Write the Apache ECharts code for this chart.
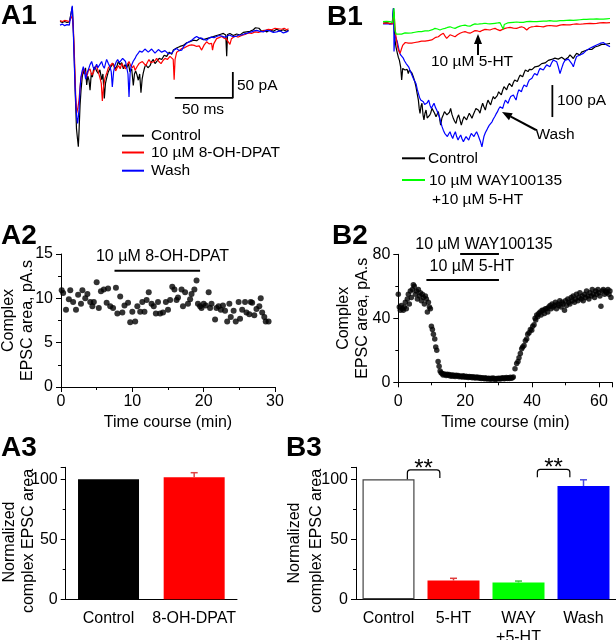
<!DOCTYPE html>
<html><head><meta charset="utf-8">
<script src="https://cdn.jsdelivr.net/npm/echarts/dist/echarts.min.js"></script>
<style>html,body{margin:0;padding:0;background:#fff}#c{width:616px;height:640px}</style>
</head><body><div id="c"></div>
<script>
// ---------- DATA ----------
// A1 traces: [time ms, current pA]
const a1Control = [[0,1],[2,-1],[4,1],[6,-1],[8,0],[9.6,2],[10.6,29],[11.3,-5],[12.2,-60],[13.2,-140],[14.2,-205],[15.1,-225],[15.8,-240],[16.5,-205],[17.3,-160],[18.1,-132],[19.2,-105],[20.2,-92],[21,-100],[22,-88],[23,-121],[24,-104],[25,-112],[25.9,-131],[27,-98],[27.9,-106],[29,-90],[30.2,-86],[31.5,-94],[33,-99],[34.4,-92],[35.9,-111],[37,-100],[38.2,-147],[39.2,-118],[40.2,-108],[41.6,-96],[43.1,-89],[44.5,-84],[46,-80],[47.5,-90],[48.9,-86],[50.3,-76],[51.7,-82],[53.2,-78],[54.6,-90],[56,-82],[57.5,-88],[59,-80],[60.3,-96],[61.8,-90],[63.2,-122],[64.2,-100],[65.2,-94],[66.4,-102],[67.5,-112],[68.7,-100],[69.8,-136],[70.8,-110],[71.8,-98],[72.9,-88],[73.9,-82],[75.8,-88],[77.6,-84],[79,-76],[80.4,-72],[81.9,-80],[83.3,-76],[85.5,-70],[87.7,-72],[89.8,-64],[92,-66],[94.2,-58],[96.3,-62],[97.7,-54],[100.5,-50],[103.4,-47],[106.3,-45],[109.2,-40],[112,-38],[115,-35],[117.8,-36],[120.7,-31],[123.6,-34],[126.4,-32],[129.3,-30],[132.2,-28],[135,-26],[137.9,-24],[140.8,-22],[142.9,-25],[143.7,-66],[144.4,-24],[146.5,-22],[149.4,-26],[152.3,-23],[155.2,-25],[158,-20],[160.9,-19],[163.8,-18],[166.7,-15],[168.5,-11],[169.5,-14],[171.5,-12],[173.9,-18],[176,-16],[178.2,-19],[181,-15],[183.9,-18],[186.8,-14],[189.7,-17],[192.5,-15],[195.4,-18],[197,-16]];
const a1DPAT = [[0,3],[2,1],[4,3],[6,2],[8,1],[9.6,3],[10.6,12],[11.5,-10],[12.5,-70],[13.5,-140],[14.4,-175],[15.4,-165],[16.4,-150],[17.3,-125],[18.1,-108],[19.2,-98],[20.4,-90],[21.7,-96],[23,-106],[24.4,-94],[25.9,-90],[27.3,-102],[28.7,-98],[30.2,-88],[31.6,-84],[33,-96],[34.5,-108],[35.6,-118],[36.5,-152],[37.5,-125],[38.8,-108],[40.3,-98],[41.7,-88],[43.4,-84],[45.1,-79],[46.6,-86],[48,-94],[49.3,-88],[50.6,-84],[51.9,-90],[53.2,-80],[54.9,-86],[56.6,-90],[58,-82],[59.5,-76],[61,-84],[62.4,-88],[63.6,-84],[64.7,-93],[66.4,-86],[68.1,-80],[69.6,-78],[71,-76],[72.5,-80],[73.9,-84],[75.3,-78],[76.7,-72],[78.2,-78],[79.6,-81],[81.5,-76],[83.3,-70],[85.2,-76],[87.1,-80],[88.8,-74],[90.5,-70],[92.7,-72],[94.8,-66],[96.3,-64],[97.6,-72],[98.4,-111],[99.2,-72],[100.6,-58],[102.7,-55],[104.9,-51],[107,-50],[109.2,-47],[111.3,-45],[113.5,-44],[115.7,-45],[117.8,-47],[120,-46],[122.1,-54],[124.3,-44],[126.4,-38],[128.5,-42],[130.7,-41],[131.5,-54],[132.5,-42],[135,-32],[137.2,-30],[139.4,-28],[141.5,-31],[143.5,-33],[145.1,-36],[146.5,-43],[147.8,-32],[150.9,-27],[153.7,-29],[156.6,-26],[159.5,-24],[162.4,-21],[165.2,-22],[168.1,-19],[171,-20],[173.9,-18],[176.8,-16],[179.6,-14],[182.5,-15],[185.3,-12],[188.2,-13],[191.1,-14],[193.2,-12],[195.4,-15],[197,-13]];
const a1Wash = [[0,-6],[2,-4],[4,-7],[6,-5],[8,-6],[9.6,-3],[10.6,31],[11.5,-20],[12.4,-86],[13.1,-130],[13.8,-163],[14.5,-185],[15.2,-195],[15.9,-180],[16.4,-169],[17.2,-130],[18.1,-105],[19.1,-94],[20.1,-86],[21.1,-96],[22.1,-110],[23.3,-98],[24.4,-92],[25.9,-82],[27.3,-76],[28.5,-86],[29.6,-92],[30.6,-86],[31.6,-81],[32.6,-88],[33.6,-89],[34.8,-80],[35.9,-76],[37,-84],[38.2,-89],[39.2,-80],[40.2,-72],[41.7,-80],[43.1,-86],[44.2,-96],[45.1,-125],[46.2,-96],[47.4,-83],[48.6,-76],[49.7,-72],[51.1,-78],[52.6,-76],[54,-70],[55.5,-70],[56.5,-76],[57.5,-79],[58.6,-100],[59.5,-144],[60.4,-100],[61.2,-86],[63,-76],[64.7,-70],[66,-64],[67.5,-60],[68.6,-56],[69.8,-54],[70.8,-58],[71.8,-57],[73.2,-52],[74.7,-53],[76.1,-58],[77.6,-57],[79,-52],[80.5,-54],[81.9,-60],[83.3,-59],[84.8,-53],[86.2,-54],[87.6,-58],[89.1,-60],[90.5,-55],[92,-57],[93.4,-61],[94.8,-60],[96.3,-60],[98.4,-54],[100.6,-51],[102.7,-55],[104.9,-54],[107,-46],[109.2,-41],[111.3,-38],[113.5,-35],[115.6,-31],[117.8,-28],[120,-31],[122.1,-31],[124.2,-34],[126.4,-35],[128.5,-31],[130.7,-29],[132.8,-30],[135,-28],[137.2,-26],[139.4,-27],[141.5,-29],[143.7,-28],[145.8,-25],[148,-27],[150.1,-28],[152.3,-27],[154.4,-25],[156.6,-25],[158.7,-23],[160.9,-22],[163,-20],[165.2,-19],[167.3,-17],[169.5,-16],[172.4,-18],[175.3,-19],[178.1,-16],[181,-17],[183.9,-20],[186.8,-19],[189.6,-17],[192.5,-21],[195.4,-19],[197,-17]];
const a1ScaleBar = [[99,-146],[149,-146],[149,-96]]; // 50 ms x 50 pA

// B1 traces: [time ms, current pA]
const b1Control = [[0,-4],[3,-2],[6,-5],[8,-4],[9,43],[9.6,-20],[10.3,-56],[11.3,-80],[12.4,-98],[13.2,-110],[14.1,-119],[15.2,-140],[16.1,-181],[17,-145],[18.1,-140],[19,-150],[19.8,-155],[20.8,-148],[21.8,-161],[22.8,-150],[23.8,-145],[25,-160],[26.1,-171],[27.3,-185],[28.4,-202],[29.5,-225],[30.5,-244],[31.2,-270],[31.9,-286],[32.8,-262],[33.6,-254],[34.5,-290],[35.3,-306],[36.2,-285],[37.1,-275],[38.1,-300],[39.1,-306],[40.1,-292],[41.1,-285],[42.2,-270],[43.4,-264],[44.5,-285],[45.7,-296],[46.7,-288],[47.7,-280],[48.7,-300],[49.7,-322],[50.8,-300],[52,-290],[53,-280],[54,-275],[55.1,-290],[56.3,-296],[57.3,-282],[58.3,-270],[59.4,-288],[60.6,-301],[61.7,-310],[62.9,-317],[64,-300],[65.2,-290],[66.3,-305],[67.5,-322],[68.6,-308],[69.8,-296],[71,-300],[72.1,-306],[73.2,-295],[74.4,-285],[75.5,-292],[76.7,-301],[77.8,-290],[79,-280],[80.1,-270],[81.3,-264],[82.4,-276],[83.6,-285],[84.7,-268],[85.9,-254],[87,-265],[88.2,-275],[89.3,-258],[90.5,-244],[91.6,-252],[92.8,-259],[93.9,-245],[95.1,-233],[96.2,-240],[97.4,-244],[98.5,-230],[99.7,-218],[100.8,-224],[102,-228],[103.1,-214],[104.3,-202],[105.4,-208],[106.6,-212],[107.7,-200],[108.9,-192],[110,-198],[111.2,-202],[112.3,-190],[113.5,-181],[114.6,-184],[115.8,-186],[117,-175],[118.1,-166],[119.2,-170],[120.4,-171],[121.5,-160],[122.7,-150],[123.8,-154],[125,-155],[126.2,-148],[127.3,-145],[128.4,-149],[129.6,-150],[131,-140],[132.5,-134],[134,-138],[135.3,-140],[136.8,-130],[138.2,-124],[139.7,-128],[141.1,-129],[142.5,-120],[143.9,-114],[145.3,-117],[146.8,-119],[148.2,-113],[149.7,-110],[151.1,-116],[152.6,-114],[154,-110],[155.5,-108],[156.9,-118],[158.3,-124],[159.8,-110],[161.2,-103],[162.7,-108],[164.1,-114],[165.5,-105],[166.9,-98],[168.4,-100],[169.8,-103],[171.2,-94],[172.7,-88],[174.1,-90],[175.6,-93],[177,-86],[178.4,-82],[179.9,-86],[181.3,-88],[182.7,-78],[184.2,-72],[185.6,-75],[187.1,-77],[188.5,-70],[189.9,-67],[191.4,-70],[192.8,-72],[194.2,-68],[195.7,-67]];
const b1Wash = [[0,-6],[3,-5],[6,-7],[8,-6],[9,43],[9.3,10],[9.5,-92],[10.2,-40],[11.2,-35],[12.2,-60],[13.2,-77],[14.2,-95],[15.2,-103],[16.3,-108],[17.5,-113],[18.6,-122],[19.8,-129],[20.9,-134],[22.1,-140],[23.2,-150],[24.4,-155],[25.2,-168],[26.1,-176],[27.2,-184],[28.4,-192],[29.5,-210],[30.5,-223],[31.5,-236],[32.5,-244],[33.6,-250],[34.8,-249],[35.9,-258],[37.1,-264],[38.2,-252],[39.4,-244],[40.5,-260],[41.7,-270],[42.8,-262],[44,-254],[45.1,-266],[46.3,-275],[47.4,-285],[48.6,-296],[49.7,-312],[50.9,-327],[52,-338],[53.2,-348],[54.3,-352],[55.5,-358],[56.6,-350],[57.8,-343],[58.9,-355],[60.1,-364],[61.2,-352],[62.4,-343],[63.5,-358],[64.7,-369],[65.8,-360],[67,-353],[68.1,-365],[69.3,-374],[70.4,-366],[71.6,-358],[72.7,-364],[73.9,-369],[75,-358],[76.1,-348],[77.2,-352],[78.4,-358],[79.5,-350],[80.7,-343],[81.8,-352],[83,-364],[84.2,-376],[85.3,-390],[86.2,-372],[87,-358],[88.2,-346],[89.4,-338],[90.5,-330],[91.7,-322],[92.8,-318],[94,-312],[95.1,-303],[96.3,-296],[97.4,-288],[98.6,-281],[99.7,-272],[100.9,-265],[102,-268],[103.2,-270],[104.3,-256],[105.5,-244],[106.6,-249],[107.8,-254],[108.9,-242],[110.1,-233],[111.2,-230],[112.4,-228],[113.5,-236],[114.7,-244],[115.8,-226],[117,-212],[118.1,-215],[119.3,-218],[120.4,-206],[121.6,-197],[122.7,-200],[123.9,-202],[125,-190],[126.1,-181],[127.2,-178],[128.4,-176],[129.5,-168],[130.7,-161],[131.8,-163],[133,-166],[134.1,-155],[135.3,-145],[136.8,-148],[138.2,-150],[139.6,-142],[141.1,-134],[142.5,-137],[143.9,-140],[145.3,-128],[146.8,-119],[148.2,-121],[149.7,-124],[151.1,-140],[152.6,-161],[154,-145],[155.5,-129],[156.9,-120],[158.3,-114],[159.8,-116],[161.2,-119],[162.7,-130],[164.1,-140],[165.5,-122],[166.9,-108],[168.4,-106],[169.8,-103],[171.2,-100],[172.7,-98],[174.1,-92],[175.6,-88],[177,-85],[178.4,-82],[179.9,-80],[181.3,-77],[182.7,-74],[184.2,-72],[185.6,-70],[187.1,-67],[188.5,-65],[189.9,-64],[191.4,-68],[192.8,-72],[194.2,-70],[195.7,-77]];
const b1SerotoninOnly = [[0,-4],[3,-3],[6,-5],[8.3,-6],[9.5,32],[10.2,-10],[11.2,-46],[12.2,-70],[13.2,-87],[14.7,-98],[16.1,-82],[17.1,-72],[18.1,-67],[19.2,-64],[20.4,-61],[21.9,-66],[23.3,-72],[24.7,-66],[26.1,-61],[27.5,-64],[29,-67],[30.5,-62],[31.9,-58],[33.3,-60],[34.8,-65],[36.2,-60],[37.6,-54],[39,-58],[40.5,-61],[42,-56],[43.4,-51],[45.5,-48],[47.7,-46],[49.8,-40],[52,-35],[53.5,-44],[54.9,-51],[56.3,-45],[57.8,-40],[60,-43],[62.1,-46],[64.2,-40],[66.4,-35],[68.5,-32],[70.7,-30],[72.8,-33],[75,-35],[77.1,-31],[79.3,-27],[81.5,-28],[83.6,-30],[85.8,-26],[87.9,-23],[90,-24],[92.2,-25],[94.4,-22],[96.6,-20],[98.8,-24],[100.9,-27],[103,-23],[105.2,-20],[107.4,-18],[109.5,-17],[112.4,-19],[115.2,-20],[117.4,-17],[119.5,-15],[121.7,-18],[123.9,-25],[126,-18],[128.2,-15],[130.4,-14],[132.5,-13],[135.4,-14],[138.2,-15],[141,-12],[143.9,-11],[146.8,-12],[149.7,-13],[152.6,-10],[155.5,-8],[158.3,-9],[161.2,-9],[164,-7],[166.9,-6],[169.8,-7],[172.7,-6],[175.5,-5],[178.4,-4],[181.3,-5],[184.2,-4],[187,-3],[189.9,-2],[192.8,-3],[195.7,-2]];
const b1WayPlus5HT = [[0,1],[3,2],[6,1],[8.3,-2],[9.5,43],[10.3,-25],[11.3,-38],[12.4,-44],[13.5,-38],[14.7,-35],[16,-38],[17.5,-40],[19,-34],[20.4,-30],[21.8,-35],[23.3,-40],[24.7,-34],[26.1,-30],[27.5,-32],[29,-35],[30.5,-30],[31.9,-27],[33.3,-30],[34.8,-33],[36.2,-28],[37.6,-25],[39,-28],[40.5,-30],[42.6,-24],[44.8,-20],[47,-22],[49.1,-25],[51.2,-22],[53.4,-20],[55.6,-17],[57.8,-15],[60,-18],[62.1,-20],[64.2,-16],[66.4,-13],[68.5,-11],[70.7,-10],[72.8,-12],[75,-13],[77.1,-9],[79.3,-6],[81.5,-7],[83.6,-6],[85.8,-5],[87.9,-4],[90,-5],[92.2,-6],[94.4,-5],[96.6,-4],[98.8,-3],[100.9,-2],[102.5,-8],[103.7,-23],[104.5,-8],[105.2,-6],[107.4,-3],[109.5,-2],[112.4,-1],[115.2,0],[118,-1],[121,-1],[123.8,1],[126.7,2],[129.6,1],[132.5,1],[135.3,2],[138.2,3],[141,3],[143.9,4],[146.8,3],[149.7,3],[152.6,4],[155.5,4],[158.3,5],[161.2,6],[164,5],[166.9,6],[169.8,7],[172.7,8],[175.5,8],[178.4,9],[181.3,9],[184.2,10],[187,9],[189.9,9],[192.8,10],[195.7,11]];
const b1ScaleBar = [[146,-197],[146,-297]]; // 100 pA

// A2: [time min, complex EPSC area pA.s]
const a2Points = [[0.1,10.9],[0.3,10.6],[0.7,8.7],[1.1,9.9],[1.3,10.9],[1.7,9.6],[2.1,8.7],[2.4,10.4],[2.8,9.4],[3.0,10.9],[3.4,10.0],[3.7,10.5],[4.1,9.6],[4.4,9.1],[4.6,9.6],[5.0,11.8],[5.3,8.9],[5.6,10.8],[6.0,11.0],[6.4,9.5],[6.6,11.1],[6.9,9.1],[7.3,8.9],[7.7,11.2],[7.9,8.3],[8.3,10.2],[8.6,8.4],[8.9,9.2],[9.4,9.5],[9.7,7.3],[10.0,8.5],[10.4,7.4],[10.7,9.1],[11.1,8.5],[11.4,9.6],[11.7,8.5],[12.0,9.8],[12.3,10.7],[12.7,9.4],[13.0,9.1],[13.3,8.3],[13.6,9.6],[13.9,8.3],[14.3,8.4],[14.7,9.6],[15.0,8.7],[15.3,9.8],[15.6,11.3],[15.9,11.0],[16.2,9.8],[16.4,10.1],[16.9,11.0],[17.1,9.1],[17.4,10.7],[17.8,9.4],[18.1,9.9],[18.3,10.5],[18.7,11.0],[19.0,12.0],[19.2,9.4],[19.5,9.1],[19.7,8.9],[20.0,9.4],[20.3,9.2],[20.7,10.7],[20.9,8.9],[21.1,9.4],[21.6,7.6],[21.8,8.9],[22.1,9.1],[22.4,8.7],[22.7,9.2],[23.0,8.6],[23.3,7.4],[23.6,9.4],[23.8,7.9],[24.2,8.6],[24.5,7.4],[24.9,9.6],[25.1,7.7],[25.4,8.7],[25.8,9.6],[26.0,8.4],[26.4,8.2],[26.6,9.6],[26.8,9.5],[27.1,8.1],[27.4,8.8],[27.8,9.1],[28.0,10.0],[28.2,8.4],[28.5,7.9],[28.7,7.4],[29.1,7.4]];
const a2DrugBar = [[7.5,13.1],[19.5,13.1]];

// B2: [time min, complex EPSC area pA.s]
const b2Points = [[0,55],[0.3,47],[0.6,45],[0.9,48],[1.2,46],[1.5,45],[1.8,47],[2.1,50],[2.4,46],[2.7,52],[3.0,55],[3.3,49],[3.6,57],[3.9,53],[4.2,58],[4.5,61],[4.8,60],[5.1,55],[5.4,57],[5.7,52],[6.0,58],[6.3,54],[6.6,56],[6.9,51],[7.2,55],[7.5,53],[7.8,49],[8.1,54],[8.4,52],[8.7,44],[9.0,50],[9.3,47],[9.6,46],[9.9,35],[10.2,33],[10.5,30],[10.9,27],[11.2,22],[11.5,20],[11.9,13],[12.2,10],[12.5,7],[12.8,6],[13.1,5.5],[13.4,4.5],[13.7,5.2],[14.0,4.8],[14.3,4.2],[14.6,5.0],[14.9,4.4],[15.2,4.8],[15.5,4.0],[15.8,4.6],[16.1,3.8],[16.4,4.5],[16.7,4.1],[17.0,3.6],[17.3,4.4],[17.6,3.9],[17.9,4.3],[18.2,3.5],[18.5,4.0],[18.8,3.7],[19.1,3.3],[19.4,4.1],[19.7,3.6],[20.0,3.2],[20.3,3.8],[20.6,3.4],[20.9,3.0],[21.2,3.6],[21.5,3.1],[21.8,3.5],[22.1,2.9],[22.4,3.4],[22.7,3.0],[23.0,2.7],[23.3,3.3],[23.6,2.8],[23.9,3.2],[24.2,2.6],[24.5,3.0],[24.8,2.4],[25.1,2.9],[25.4,2.5],[25.7,2.2],[26.0,2.8],[26.3,2.4],[26.6,2.0],[26.9,2.6],[27.2,2.3],[27.5,1.9],[27.8,2.5],[28.1,2.1],[28.4,2.7],[28.7,2.2],[29.0,1.8],[29.3,2.4],[29.6,2.0],[29.9,2.6],[30.2,2.3],[30.5,2.0],[30.8,2.7],[31.1,2.4],[31.4,2.9],[31.7,2.2],[32.0,2.5],[32.3,3.0],[32.6,2.3],[32.9,2.8],[33.2,2.4],[33.5,3.1],[33.8,2.6],[34.1,2.9],[34.4,3.3],[34.9,8.5],[35.4,11.7],[35.8,13],[36.1,15.4],[36.5,18],[36.9,21],[37.2,22],[37.6,23],[38.0,26],[38.4,27],[38.7,30],[39.1,31],[39.5,33],[39.9,32.5],[40.2,35],[40.6,36],[40.9,40],[41.1,39],[41.4,42],[41.7,41],[42.0,43],[42.4,44],[42.7,42],[43.0,45],[43.4,45],[43.7,43],[44.0,46],[44.4,46],[44.7,44],[45.0,47],[45.4,48],[45.7,46],[46.0,49],[46.3,47],[46.7,48],[47.0,50],[47.3,46],[47.7,49],[48.0,48],[48.3,51],[48.7,47],[49.0,50],[49.3,49],[49.7,45],[50.0,51],[50.3,48],[50.7,52],[51.0,50],[51.3,49],[51.7,53],[52.0,51],[52.3,54],[52.7,50],[53.0,52],[53.3,55],[53.7,51],[54.0,53],[54.3,56],[54.7,52],[55.0,54],[55.3,51],[55.7,55],[56.0,53],[56.3,57],[56.7,54],[57.0,52],[57.3,56],[57.7,54],[58.0,58],[58.3,55],[58.7,53],[59.0,57],[59.3,55],[59.7,58],[60.0,56],[60.3,54],[60.6,47.5],[61.0,57],[61.3,58],[61.7,55],[62.0,57],[62.3,56],[62.7,58],[63.0,55],[63.3,57],[63.6,53]];
const b2WayBar = [[18.5,80.2],[30.1,80.2]];
const b2SerotoninBar = [[8.4,63.9],[30.1,63.9]];

// A3 / B3 bars (normalized complex EPSC area)
const a3Categories = ['Control', '8-OH-DPAT'];
const a3Values = [100, 101.7];
const a3Errors = [[1, 101.7, 105.5]];           // [category, mean, mean+SEM]
const b3Categories = ['Control', '5-HT', 'WAY\n+5-HT', 'Wash'];
const b3Values = [100, 15.6, 14, 94.4];
const b3Errors = [[1, 15.6, 17.5], [2, 14, 15.2], [3, 94.4, 99.6]];
const b3Significance = [[0, 1, 100, 107.8, 101], [2, 3, 101.7, 108.3, 101.7]]; // [fromCat, toCat, yLeft, yTop, yRight]

// ---------- STYLE ----------
const FF = '"Liberation Sans", Arial, sans-serif';
const a3Colors = ['#000000', '#ff0000'];
const a3ErrColors = ['#e04444'];
const b3Colors = ['#ffffff', '#ff0000', '#00ff00', '#0000ff'];
const b3ErrColors = ['#e03c3c', '#3cc83c', '#4c4ce0'];

const chart = echarts.init(document.getElementById('c'), null, {renderer: 'canvas', width: 616, height: 640});

function valAxis(grid, extra) {
  return Object.assign({
    gridIndex: grid, type: 'value',
    axisLine: {show: true, lineStyle: {color: '#000', width: 1}},
    axisTick: {show: true, length: 5, inside: false, lineStyle: {color: '#000', width: 1}},
    minorTick: {show: true, splitNumber: 2, length: 3, lineStyle: {color: '#000', width: 1}},
    splitLine: {show: false}, minorSplitLine: {show: false},
    axisLabel: {color: '#000', fontSize: 16, fontFamily: FF, margin: 8, showMinLabel: true},
    nameTextStyle: {color: '#000', fontSize: 16, fontFamily: FF, lineHeight: 19},
    nameLocation: 'middle', nameMoveOverlap: false
  }, extra);
}
function catAxis(grid, cats) {
  return {
    gridIndex: grid, type: 'category', data: cats,
    axisLine: {show: true, lineStyle: {color: '#000', width: 1}},
    axisTick: {show: false},
    axisLabel: {color: '#000', fontSize: 16, fontFamily: FF, margin: 10, lineHeight: 19, interval: 0}
  };
}
function hidden(grid, min, max) {
  return {gridIndex: grid, type: 'value', min: min, max: max, show: false, splitLine: {show: false}};
}
function trace(xi, data, color, w) {
  return {type: 'line', xAxisIndex: xi, yAxisIndex: xi, data: data, showSymbol: false, symbol: 'none',
    lineStyle: {color: color, width: w || 1.2}, clip: false, silent: true};
}
function errRender(colors) {
  return function (params, api) {
    const c = colors[params.dataIndex];
    const b = api.coord([api.value(0), api.value(1)]);
    const t = api.coord([api.value(0), api.value(2)]);
    return {type: 'group', children: [
      {type: 'line', shape: {x1: b[0], y1: b[1], x2: t[0], y2: t[1]}, style: {stroke: c, lineWidth: 1.5}},
      {type: 'line', shape: {x1: t[0] - 3.5, y1: t[1], x2: t[0] + 3.5, y2: t[1]}, style: {stroke: c, lineWidth: 1.5}}
    ]};
  };
}
function bracketRender(params, api) {
  const band = api.size([1, 0])[0];
  const xa = api.coord([api.value(0), 0])[0] + 0.29 * band;
  const xb = api.coord([api.value(1), 0])[0] - 0.21 * band;
  const yl = api.coord([0, api.value(2)])[1];
  const yt = api.coord([0, api.value(3)])[1];
  const yr = api.coord([0, api.value(4)])[1];
  const r = 3;
  return {type: 'group', children: [
    {type: 'path', shape: {pathData: 'M' + xa + ' ' + yl + 'L' + xa + ' ' + (yt + r) + 'Q' + xa + ' ' + yt + ' ' + (xa + r) + ' ' + yt +
      'L' + (xb - r) + ' ' + yt + 'Q' + xb + ' ' + yt + ' ' + xb + ' ' + (yt + r) + 'L' + xb + ' ' + yr},
      style: {stroke: '#000', fill: 'none', lineWidth: 1.2}},
    {type: 'text', style: {text: '**', x: (xa + xb) / 2, y: yt + 11, align: 'center', verticalAlign: 'bottom',
      textAlign: 'center', textVerticalAlign: 'bottom', font: '24px ' + FF, fill: '#000'}}
  ]};
}

function T(text, x, y, size, opts) {
  opts = opts || {};
  return {type: 'text', x: x, y: y, rotation: opts.rot || 0, silent: true, style: {
    text: text, fill: '#000', font: (opts.bold ? 'bold ' : '') + size + 'px ' + FF,
    textAlign: opts.align || 'left', align: opts.align || 'left',
    textVerticalAlign: 'middle', verticalAlign: 'middle'}};
}
function L(x1, y1, x2, y2, color, w) {
  return {type: 'line', silent: true, shape: {x1: x1, y1: y1, x2: x2, y2: y2}, style: {stroke: color, lineWidth: w || 2}};
}
function arrow(x1, y1, x2, y2) {
  const dx = x2 - x1, dy = y2 - y1, len = Math.sqrt(dx * dx + dy * dy);
  const ux = dx / len, uy = dy / len, hl = 10, hw = 4;
  const bx = x2 - ux * hl, by = y2 - uy * hl;
  return [
    L(x1, y1, bx, by, '#000', 2),
    {type: 'polygon', silent: true, shape: {points: [[x2, y2], [bx - uy * hw, by + ux * hw], [bx + uy * hw, by - ux * hw]]}, style: {fill: '#000'}}
  ];
}
const ROT = Math.PI / 2;

const option = {
  animation: false,
  backgroundColor: '#fff',
  grid: [
    {left: 60, top: 6.4, width: 232, height: 145.6, outerBoundsMode: 'none', containLabel: false},      // A1
    {left: 383, top: 6, width: 232, height: 160, outerBoundsMode: 'none', containLabel: false},         // B1
    {left: 61, top: 254, width: 214, height: 133, outerBoundsMode: 'none', containLabel: false},        // A2
    {left: 398.3, top: 254.3, width: 214, height: 128, outerBoundsMode: 'none', containLabel: false},   // B2
    {left: 65.7, top: 467.3, width: 171.3, height: 132, outerBoundsMode: 'none', containLabel: false},  // A3
    {left: 356, top: 467.3, width: 260, height: 132, outerBoundsMode: 'none', containLabel: false}      // B3
  ],
  xAxis: [
    hidden(0, 0, 200),
    hidden(1, 0, 200),
    valAxis(2, {min: 0, max: 30, interval: 10, name: 'Time course (min)', nameGap: 26,
      axisLabel: {color: '#000', fontSize: 16, fontFamily: FF, margin: 7, showMinLabel: true}}),
    valAxis(3, {min: 0, max: 64, interval: 20, name: 'Time course (min)', nameGap: 31,
      axisLabel: {color: '#000', fontSize: 16, fontFamily: FF, margin: 11, showMinLabel: true, showMaxLabel: false}}),
    catAxis(4, a3Categories),
    catAxis(5, b3Categories)
  ],
  yAxis: [
    hidden(0, -250, 30),
    hidden(1, -450, 50),
    valAxis(2, {min: 0, max: 15, interval: 5, name: 'Complex\nEPSC area, pA.s', nameGap: 24, nameRotate: 90}),
    valAxis(3, {min: 0, max: 80, interval: 40, name: 'Complex\nEPSC area, pA.s', nameGap: 26, nameRotate: 90}),
    valAxis(4, {min: 0, max: 110, interval: 50,
      axisLabel: {color: '#000', fontSize: 16, fontFamily: FF, margin: 8, showMinLabel: true, showMaxLabel: false}}),
    valAxis(5, {min: 0, max: 110, interval: 50,
      axisLabel: {color: '#000', fontSize: 16, fontFamily: FF, margin: 8, showMinLabel: true, showMaxLabel: false}})
  ],
  series: [
    // A1
    trace(0, a1Control, '#000000'),
    trace(0, a1DPAT, '#ff0000'),
    trace(0, a1Wash, '#0000ff'),
    trace(0, a1ScaleBar, '#000000', 1.8),
    // B1
    trace(1, b1Control, '#000000'),
    trace(1, b1Wash, '#0000ff'),
    trace(1, b1SerotoninOnly, '#ff0000'),
    trace(1, b1WayPlus5HT, '#00ff00'),
    trace(1, b1ScaleBar, '#000000', 1.8),
    // A2
    {type: 'scatter', xAxisIndex: 2, yAxisIndex: 2, data: a2Points, symbolSize: 6, itemStyle: {color: '#000'}},
    trace(2, a2DrugBar, '#000000', 2),
    // B2
    {type: 'scatter', xAxisIndex: 3, yAxisIndex: 3, data: b2Points, symbolSize: 5.5, itemStyle: {color: '#000'}},
    trace(3, b2WayBar, '#000000', 2),
    trace(3, b2SerotoninBar, '#000000', 2),
    // A3
    {type: 'bar', xAxisIndex: 4, yAxisIndex: 4, barWidth: 61,
      data: a3Values.map((v, i) => ({value: v, itemStyle: {color: a3Colors[i]}}))},
    {type: 'custom', xAxisIndex: 4, yAxisIndex: 4, data: a3Errors, renderItem: errRender(a3ErrColors), clip: false, z: 5},
    // B3
    {type: 'bar', xAxisIndex: 5, yAxisIndex: 5, barWidth: 52,
      data: b3Values.map((v, i) => ({value: v, itemStyle: {color: b3Colors[i],
        borderColor: i === 0 ? '#444' : b3Colors[i], borderWidth: i === 0 ? 1.2 : 0}}))},
    {type: 'custom', xAxisIndex: 5, yAxisIndex: 5, data: b3Errors, renderItem: errRender(b3ErrColors), clip: false, z: 5},
    {type: 'custom', xAxisIndex: 5, yAxisIndex: 5, data: b3Significance, renderItem: bracketRender, clip: false, z: 6}
  ],
  graphic: {elements: [
    // panel letters
    T('A1', 1, 16, 28, {bold: true}),
    T('B1', 327, 17, 28, {bold: true}),
    T('A2', 1, 236, 28, {bold: true}),
    T('B2', 332, 236, 28, {bold: true}),
    T('A3', 1, 448, 28, {bold: true}),
    T('B3', 286, 448, 28, {bold: true}),
    // A1 annotations
    T('50 pA', 237, 86, 15.5),
    T('50 ms', 203, 110, 15.5, {align: 'center'}),
    L(122, 135.7, 144, 135.7, '#000000'), T('Control', 151, 136, 15.5),
    L(122, 152.5, 144, 152.5, '#ff0000'), T('10 µM 8-OH-DPAT', 151, 153, 15.5),
    L(122, 170.7, 144, 170.7, '#0000ff'), T('Wash', 151, 171, 15.5),
    // B1 annotations
    T('10 µM 5-HT', 472, 62, 15.5, {align: 'center'}),
    ...arrow(478, 55, 478, 34),
    T('Wash', 555, 135, 15.5, {align: 'center'}),
    ...arrow(536, 130, 502, 112),
    T('100 pA', 557, 101, 15.5),
    L(402, 158.3, 425, 158.3, '#000000'), T('Control', 428, 158.5, 15.5),
    L(402, 180, 425, 180, '#00ff00'), T('10 µM WAY100135', 429, 180.5, 15.5),
    T('+10 µM 5-HT', 432, 199.5, 15.5),
    // A2 / B2 drug labels
    T('10 µM 8-OH-DPAT', 162.5, 257, 16, {align: 'center'}),
    T('10 µM WAY100135', 484, 245, 16, {align: 'center'}),
    T('10 µM 5-HT', 472, 267, 16, {align: 'center'}),
    // A3 / B3 y-axis titles
    T('Normalized', 10, 542, 16, {align: 'center', rot: ROT}),
    T('complex EPSC area', 29, 541, 16, {align: 'center', rot: ROT}),
    T('Normalized', 295, 543, 16, {align: 'center', rot: ROT}),
    T('complex EPSC area', 317, 541, 16, {align: 'center', rot: ROT})
  ]}
};
chart.setOption(option);
</script></body></html>
